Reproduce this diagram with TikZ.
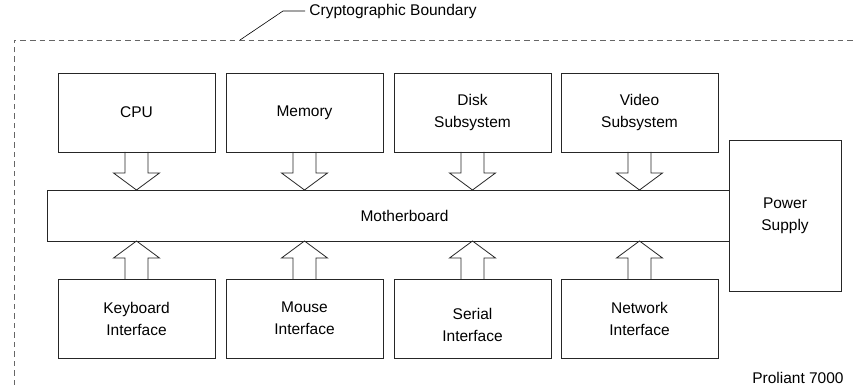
\documentclass[tikz,border=0pt]{standalone}
\usepackage{fontspec}
\setmainfont{Liberation Sans}
\usetikzlibrary{positioning,calc}

% hollow block arrow from an anchor (#1) to a tip (#2)
\newcommand{\blockarrow}[2]{%
  \draw[bus arrow] let \p1=(#1), \p2=(#2), \n1={sign(\y2-\y1)} in
    (\x1-11.5pt,\y1) -- (\x1-11.5pt,\y2-\n1*17pt) -- (\x1-23pt,\y2-\n1*17pt)
    -- (\x1,\y2) -- (\x1+23pt,\y2-\n1*17pt) -- (\x1+11.5pt,\y2-\n1*17pt)
    -- (\x1+11.5pt,\y1);}

\begin{document}
\begin{tikzpicture}[
    x=1pt, y=1pt,
    font=\fontsize{15.5}{22}\selectfont,
    line width=0.8pt,
    unit node/.style={rectangle,draw=black!85,minimum width=157pt,minimum height=79pt,align=center,inner sep=0pt,outer sep=0pt},
    board node/.style={rectangle,draw=black!85,minimum width=682pt,minimum height=51pt,inner sep=0pt,outer sep=0pt},
    power node/.style={rectangle,draw=black!85,minimum width=112pt,minimum height=151pt,align=center,inner sep=0pt,outer sep=0pt},
    bus arrow/.style={draw=black!85,line join=miter},
    boundary/.style={draw=black!60,line width=0.7pt,dash pattern=on 5.5pt off 4pt}
]
\useasboundingbox (0,0) rectangle (854,-385);

% Boundary
\coordinate (bnd bl) at (14,-385);
\coordinate (bnd tl) at (14,-40);
\coordinate (bnd tr) at (854,-40);
\draw[boundary] (bnd bl) -- (bnd tl) -- (bnd tr);
\coordinate (bnd pt) at (240,-40);
\coordinate (bnd kink) at (283,-11);
\node[anchor=west,inner xsep=4pt,inner ysep=0pt] (bnd label) at (305,-11) {Cryptographic Boundary};
\draw[line width=0.6pt] (bnd pt) -- (bnd kink) -- (bnd label.west);

% Top row
\node[unit node] (cpu) at (136.5,-112.5) {CPU};
\node[unit node, right=11pt of cpu] (memory) {Memory};
\node[unit node, right=11pt of memory] (disk) {Disk\\Subsystem};
\node[unit node, right=10pt of disk] (video) {Video\\Subsystem};

% Motherboard and power
\node[board node] (board) at (388,-215.5) {\hspace*{33pt}Motherboard};
\node[power node, right=0pt of board] (power) {Power\\Supply};

% Bottom row
\node[unit node, below=127pt of cpu] (keyboard) {Keyboard\\Interface};
\node[unit node, right=11pt of keyboard] (mouse) {Mouse\\Interface};
\node[unit node, right=11pt of mouse] (serial) {\rule{0pt}{24pt}Serial\\Interface};
\node[unit node, right=10pt of serial] (network) {Network\\Interface};

% Label
\node[anchor=base east,inner sep=0pt] (model) at (844,-383) {Proliant 7000};

% Bus arrows
\blockarrow{cpu.south}{cpu.south |- board.north}
\blockarrow{memory.south}{memory.south |- board.north}
\blockarrow{disk.south}{disk.south |- board.north}
\blockarrow{video.south}{video.south |- board.north}

\blockarrow{keyboard.north}{keyboard.north |- board.south}
\blockarrow{mouse.north}{mouse.north |- board.south}
\blockarrow{serial.north}{serial.north |- board.south}
\blockarrow{network.north}{network.north |- board.south}

\end{tikzpicture}
\end{document}
